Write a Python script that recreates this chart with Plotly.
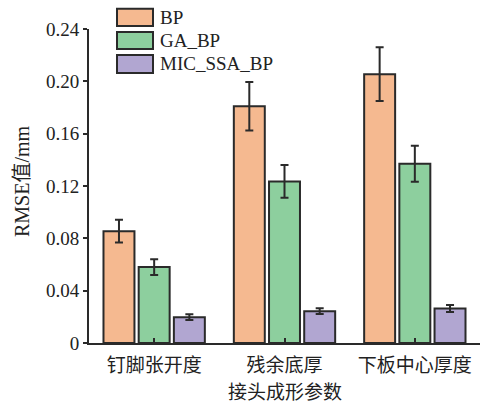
import plotly.graph_objects as go

categories = ["钉脚张开度", "残余底厚", "下板中心厚度"]
series_names = ["BP", "GA_BP", "MIC_SSA_BP"]
bp_vals = [0.0855, 0.181, 0.2055]
bp_err = [0.0087, 0.0185, 0.0205]
ga_vals = [0.058, 0.1235, 0.137]
ga_err = [0.006, 0.0125, 0.0137]
mic_vals = [0.0197, 0.0243, 0.0263]
mic_err = [0.0022, 0.0022, 0.0027]
y_ticks = [0, 0.04, 0.08, 0.12, 0.16, 0.20, 0.24]
y_ticktext = ["0", "0.04", "0.08", "0.12", "0.16", "0.20", "0.24"]
x_title = "接头成形参数"
y_title = "RMSE值/mm"

colors = ["#F5B990", "#8DCF9E", "#B1A6D1"]
edge = "#2a2a2a"
serif = "Liberation Serif, Times New Roman, serif"
cjk = "Noto Sans CJK SC"

W, H = 480, 408
ML, MR, MT, MB = 89, 0, 29, 65
pw, ph = W - ML - MR, H - MT - MB


def px2paper(px, py):
    return (px - ML) / pw, (H - MB - py) / ph


fig = go.Figure()
for name, vals, errs, col in zip(series_names, [bp_vals, ga_vals, mic_vals],
                                 [bp_err, ga_err, mic_err], colors):
    fig.add_trace(go.Bar(
        x=categories, y=vals, name=name,
        marker=dict(color=col, line=dict(color=edge, width=2)),
        error_y=dict(type="data", array=errs, visible=True,
                     color=edge, thickness=2, width=4),
        showlegend=False,
    ))

# custom legend (rectangular swatches)
shapes = []
annotations = []
rows = [(8.7, 26), (32, 49), (55, 73)]
for (y0, y1), name, col in zip(rows, series_names, colors):
    x0p, y0p = px2paper(117, y1)
    x1p, y1p = px2paper(153, y0)
    shapes.append(dict(type="rect", xref="paper", yref="paper",
                       x0=x0p, x1=x1p, y0=y0p, y1=y1p,
                       fillcolor=col, line=dict(color=edge, width=2)))
    tx, ty = px2paper(158, (y0 + y1) / 2)
    annotations.append(dict(xref="paper", yref="paper", x=tx, y=ty,
                            text=name, showarrow=False, xanchor="left",
                            yanchor="middle",
                            font=dict(family=serif, size=19, color="#222")))

# axis titles
tx, ty = px2paper(284.5, 390)
annotations.append(dict(xref="paper", yref="paper", x=tx, y=ty, text=x_title,
                        showarrow=False, xanchor="center", yanchor="middle",
                        font=dict(family=cjk, size=19, color="#222")))
tx, ty = px2paper(22, 181)
annotations.append(dict(xref="paper", yref="paper", x=tx, y=ty, text=y_title,
                        showarrow=False, xanchor="center", yanchor="middle",
                        textangle=-90,
                        font=dict(family=serif + ", " + cjk, size=20, color="#222")))

fig.update_layout(
    width=W, height=H,
    margin=dict(l=ML, r=MR, t=MT, b=MB, pad=0),
    paper_bgcolor="white", plot_bgcolor="white",
    barmode="group", bargap=0.19, bargroupgap=0.12,
    shapes=shapes, annotations=annotations,
    font=dict(family=serif, size=19, color="#222"),
)
fig.update_xaxes(
    range=[-0.5, 2.5], showline=True, linecolor=edge, linewidth=2,
    ticks="inside", ticklen=5, tickwidth=2, tickcolor=edge,
    tickfont=dict(family=cjk, size=19, color="#222"),
    ticklabelstandoff=4,
    showgrid=False, zeroline=False,
)
fig.update_yaxes(
    range=[0, 0.24], tickvals=y_ticks, ticktext=y_ticktext,
    showline=True, linecolor=edge, linewidth=2,
    ticks="outside", ticklen=4, tickwidth=2, tickcolor=edge,
    tickfont=dict(family=serif, size=19, color="#222"),
    showgrid=False, zeroline=False,
)

fig.write_html("out.html")
